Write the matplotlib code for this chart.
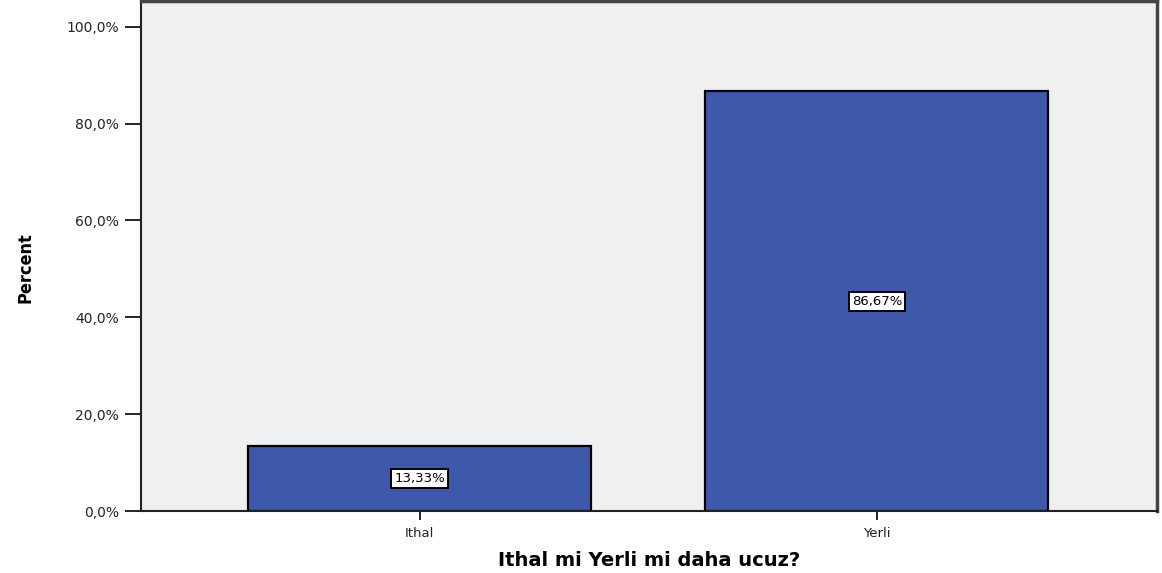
import matplotlib
matplotlib.use("Agg")
import matplotlib.pyplot as plt
from matplotlib.ticker import FuncFormatter

categories = ["Ithal", "Yerli"]
percents = [13.33, 86.67]
y_ticks = [0, 20, 40, 60, 80, 100]

bar_color = "#3E58AB"

fig = plt.figure(figsize=(11.62, 5.73), dpi=100)
ax = fig.add_axes([0.1213, 0.1082, 0.8744, 0.890])
ax.set_facecolor("#F0F0F0")

x = range(len(categories))
ax.bar(x, percents, width=0.75, color=bar_color, edgecolor="black", linewidth=1.6, zorder=2)

# value labels in the middle of the bars
for xi, p in zip(x, percents):
    ax.text(xi, p / 2, f"{p:.2f}%".replace(".", ","), ha="center", va="center",
            fontsize=9.5, family="DejaVu Sans", zorder=3,
            bbox=dict(boxstyle="square,pad=0.22", facecolor="white", edgecolor="black", linewidth=1.4))

ax.set_xlim(-0.61, 1.613)
ax.set_ylim(0, 105.3)
ax.set_xticks(list(x))
ax.set_xticklabels(categories, fontsize=9.5, family="DejaVu Sans", color="#222222")
ax.set_yticks(y_ticks)
ax.yaxis.set_major_formatter(FuncFormatter(lambda v, pos: f"{v:.1f}%".replace(".", ",")))
for lab in ax.get_yticklabels():
    lab.set_fontsize(10)
    lab.set_color("#222222")

ax.tick_params(axis="y", length=11.5, width=1.2, direction="out", pad=4.3)
ax.tick_params(axis="x", length=6.5, width=1.2, direction="out", pad=5)

for side in ["left", "bottom"]:
    ax.spines[side].set_linewidth(1.5)
    ax.spines[side].set_color("#222222")
for side in ["top", "right"]:
    ax.spines[side].set_linewidth(2.5)
    ax.spines[side].set_color("#444444")

ax.set_xlabel("Ithal mi Yerli mi daha ucuz?", fontsize=14, fontweight="bold")
ax.xaxis.set_label_coords(0.5, -0.078)
# condensed bold like the original axis title
ax.set_ylabel("Percent", fontsize=13, fontweight="bold", fontstretch="condensed",
              family=["DejaVu Sans", "Liberation Sans"])
ax.yaxis.set_label_coords(-0.105, 0.478)

fig.savefig("out.png", dpi=100)
